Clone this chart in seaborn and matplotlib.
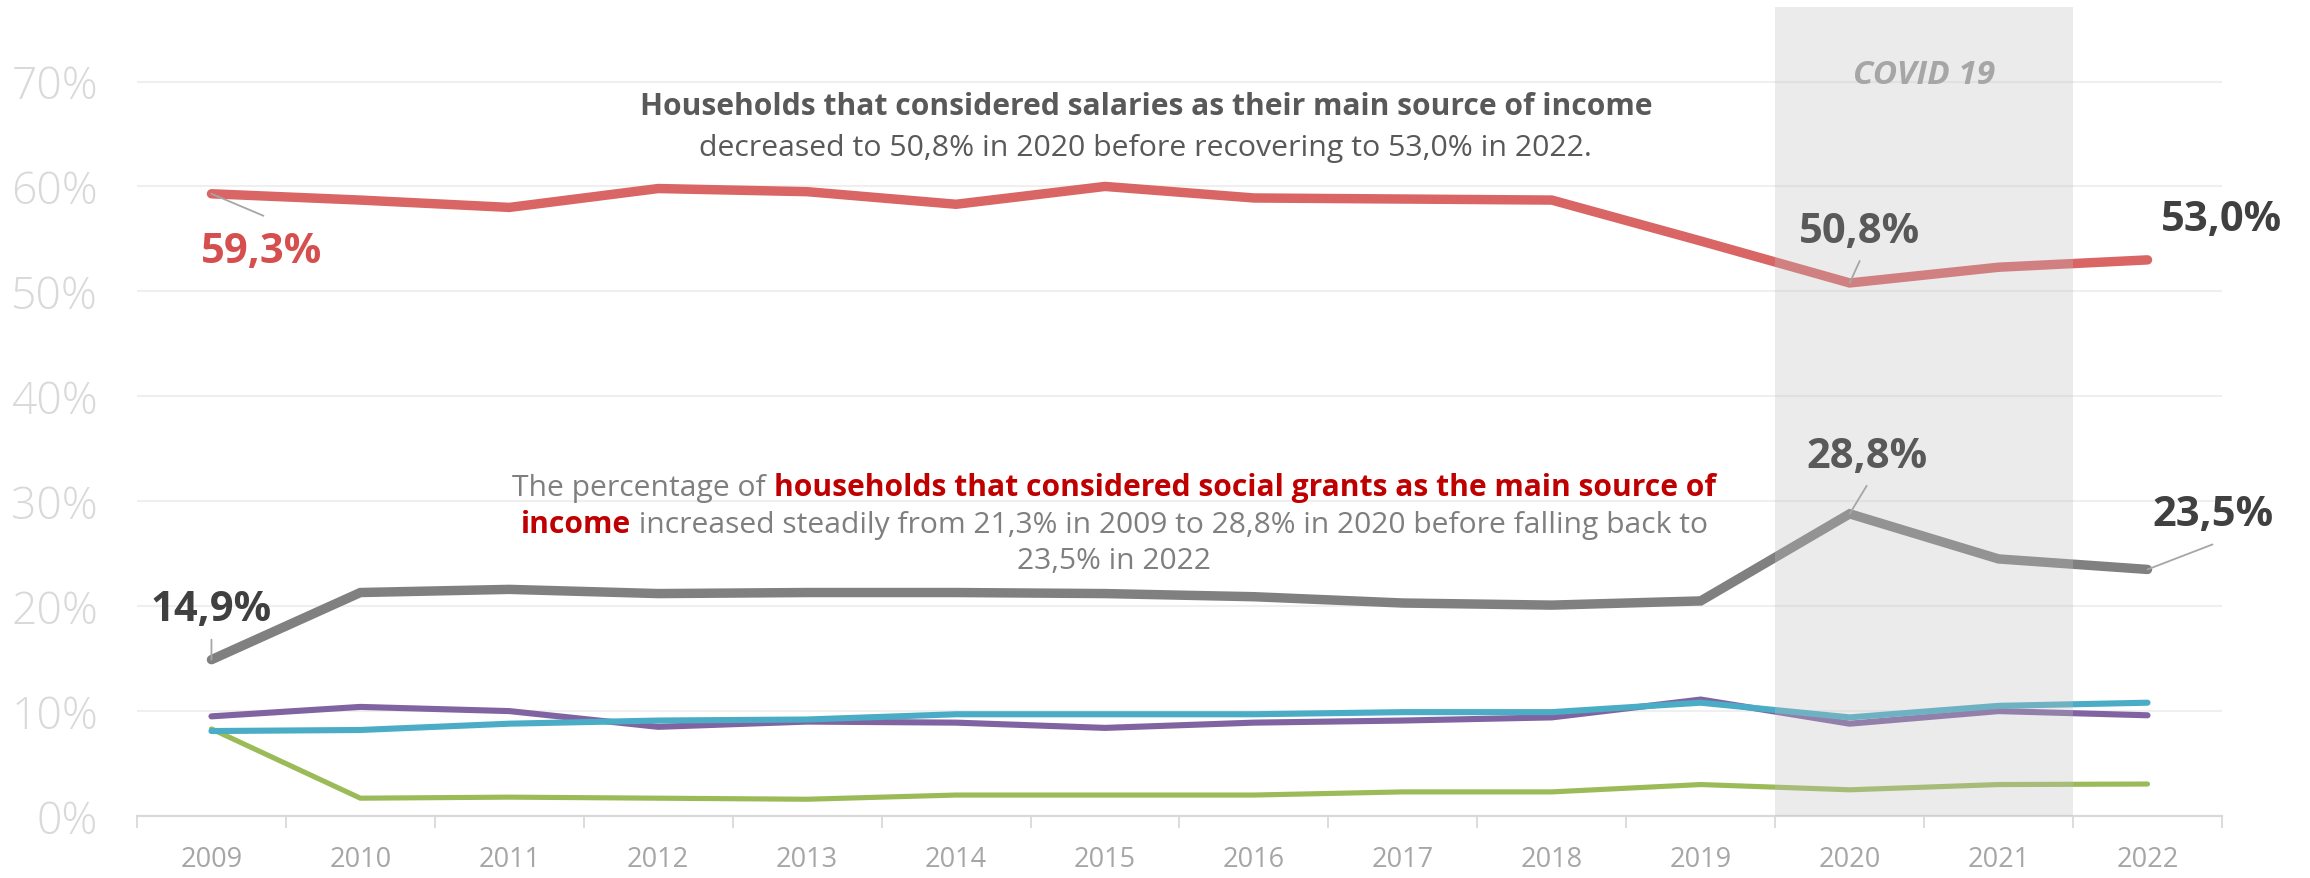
import matplotlib
matplotlib.use("Agg")
import matplotlib.pyplot as plt
import seaborn as sns
import pandas as pd
from matplotlib.offsetbox import TextArea, HPacker, VPacker, AnnotationBbox

# ---- data (% of households by main source of income) ----
years = list(range(2009, 2023))
salaries = [59.3, 58.7, 58.0, 59.8, 59.5, 58.3, 60.0, 58.9, 58.8, 58.7, 54.8, 50.8, 52.3, 53.0]
social_grants = [14.9, 21.3, 21.6, 21.2, 21.3, 21.3, 21.2, 20.9, 20.3, 20.1, 20.5, 28.8, 24.5, 23.5]
purple_source = [9.5, 10.4, 10.0, 8.5, 9.0, 8.9, 8.4, 8.9, 9.1, 9.4, 11.1, 8.8, 10.0, 9.6]
teal_source = [8.1, 8.2, 8.8, 9.1, 9.2, 9.7, 9.7, 9.7, 9.9, 9.9, 10.8, 9.4, 10.5, 10.8]
green_source = [8.3, 1.7, 1.8, 1.7, 1.6, 2.0, 2.0, 2.0, 2.3, 2.3, 3.0, 2.5, 3.0, 3.05]
y_ticks = [0, 10, 20, 30, 40, 50, 60, 70]
covid_years = (2020, 2021)

FONT = ["Open Sans", "DejaVu Sans"]

sns.set_theme(style="white")
plt.rcParams["font.family"] = FONT

fig = plt.figure(figsize=(23.1, 8.79), dpi=100)
ax = fig.add_axes([0.0593, 0.0705, 0.9026, 0.9204])

series = [
    (green_source, "#9bbb59", 3.7, 2.0),
    (purple_source, "#8064a2", 4.4, 2.1),
    (teal_source, "#4bacc6", 4.4, 2.2),
    (social_grants, "#808080", 6.8, 2.3),
    (salaries, "#d96565", 6.8, 2.4),
]
for values, color, lw, z in series:
    df = pd.DataFrame({"year": years, "pct": values})
    sns.lineplot(data=df, x="year", y="pct", ax=ax, color=color, linewidth=lw,
                 zorder=z, solid_capstyle="round", solid_joinstyle="miter")

# COVID band drawn over the lines so they appear faded inside it
ax.axvspan(covid_years[0] - 0.5, covid_years[1] + 0.5, color="#bfbfbf", alpha=0.31,
           lw=0, zorder=3)
ax.text((covid_years[0] + covid_years[1]) / 2, 70.7, "COVID 19", ha="center", va="center",
        fontsize=24, fontweight="bold", fontstyle="italic", color="#a6a6a6", zorder=6)

# axes styling
ax.set_xlim(years[0] - 0.5, years[-1] + 0.5)
ax.set_ylim(0, 77.1)
ax.set_xticks(years)
ax.set_xticklabels([str(y) for y in years])
ax.set_xticks([y + 0.5 for y in [years[0] - 1] + years], minor=True)
ax.set_yticks(y_ticks)
ax.set_yticklabels([f"{v}%" for v in y_ticks])
ax.set_xlabel("")
ax.set_ylabel("")
for s in ["top", "right", "left"]:
    ax.spines[s].set_visible(False)
ax.spines["bottom"].set_color("#d9d9d9")
ax.spines["bottom"].set_linewidth(1.6)
ax.yaxis.grid(True, color="#efefef", linewidth=1.5, zorder=0)
ax.xaxis.grid(False)
ax.set_axisbelow(True)
ax.tick_params(axis="x", which="major", length=0, pad=21, labelsize=19.5, labelcolor="#a6a6a6")
ax.tick_params(axis="x", which="minor", length=8.6, width=1.3, color="#d9d9d9", direction="out",
               bottom=True)
ax.tick_params(axis="y", length=0, pad=28, labelsize=32, labelcolor="#d9d9d9")
for lab in ax.get_yticklabels():
    lab.set_fontweight("light")

# value labels with thin leader lines (offsets in pixels)
def fmt(v):
    return f"{v:.1f}%".replace(".", ",")

labels = [
    (years[0], salaries[0], (50, -58), (52, -22), "#d64f4f"),
    (years[0], social_grants[0], (0, 50), (0, 20), "#404040"),
    (2020, salaries[years.index(2020)], (10, 51), (10, 22), "#595959"),
    (2020, social_grants[years.index(2020)], (17, 57), (17, 28), "#595959"),
    (years[-1], salaries[-1], (74, 40), None, "#404040"),
    (years[-1], social_grants[-1], (65, 55), (65, 25), "#404040"),
]
for yr, val, txt_off, lead_off, col in labels:
    ax.annotate(fmt(val), xy=(yr, val), xytext=txt_off, textcoords="offset pixels",
                ha="center", va="center", fontsize=30, fontweight="bold", color=col, zorder=7)
    if lead_off is not None:
        ax.annotate("", xy=(yr, val), xytext=lead_off, textcoords="offset pixels",
                    arrowprops=dict(arrowstyle="-", color="#a6a6a6", lw=1.3,
                                    shrinkA=0, shrinkB=0), zorder=7)

# annotation blocks with mixed styling
def line(parts):
    return HPacker(children=[TextArea(t, textprops=dict(fontsize=fs, color=c, fontweight=w,
                                                        family=FONT))
                             for t, c, w, fs in parts],
                   align="baseline", pad=0, sep=0)

G1 = "#595959"
top_block = VPacker(children=[
    line([("Households that considered salaries as their main source of income", G1, "bold", 21.6)]),
    line([("decreased to 50,8% in 2020 before recovering to 53,0% in 2022.", G1, "normal", 21.8)]),
], align="center", pad=0, sep=8)
fig.add_artist(AnnotationBbox(top_block, (0.496, 0.855), xycoords="figure fraction",
                              box_alignment=(0.5, 0.5), frameon=False, zorder=8))

G2 = "#7f7f7f"
R = "#c00000"
FS = 21.6
grant_block = VPacker(children=[
    line([("The percentage of ", G2, "normal", FS),
          ("households that considered social grants as the main source of", R, "bold", FS)]),
    line([("income", R, "bold", FS),
          (" increased steadily from 21,3% in 2009 to 28,8% in 2020 before falling back to",
           G2, "normal", FS)]),
    line([("23,5% in 2022", G2, "normal", FS)]),
], align="center", pad=0, sep=5)
fig.add_artist(AnnotationBbox(grant_block, (0.4823, 0.403), xycoords="figure fraction",
                              box_alignment=(0.5, 0.5), frameon=False, zorder=8))

fig.savefig("out.png", dpi=100, facecolor="white")
